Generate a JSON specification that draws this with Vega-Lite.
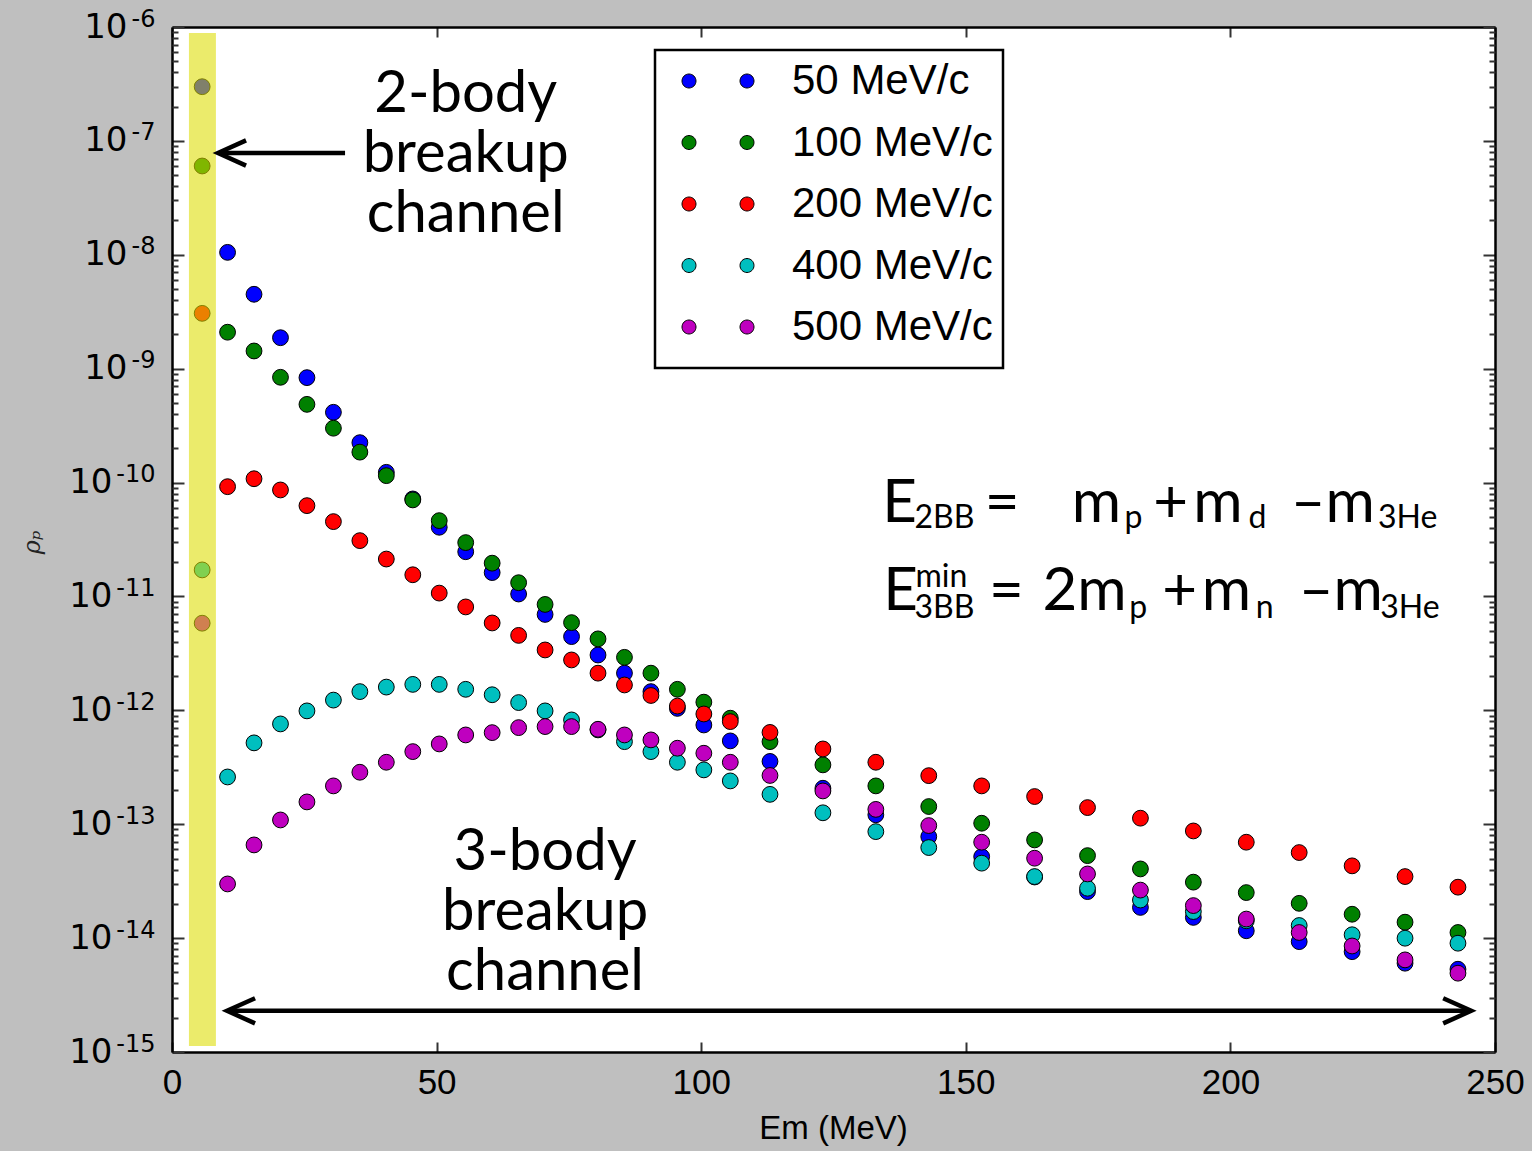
{
  "$schema": "https://vega.github.io/schema/vega-lite/v6.json",
  "width": 1323,
  "height": 1025,
  "autosize": {"type": "none"},
  "padding": {"left": 172, "top": 27, "right": 37, "bottom": 99},
  "background": "#bfbfbf",
  "config": {
    "view": {"fill": "white", "stroke": null},
    "axis": {"grid": false, "domainColor": "black", "domainWidth": 2.5, "tickColor": "#333333", "tickWidth": 2, "labelColor": "black", "titleColor": "black", "labelFont": "Liberation Sans", "titleFont": "Liberation Sans", "titleFontWeight": "normal", "labelOverlap": false, "labelFlush": false},
    "legend": {"strokeWidth": 2.5}
  },
  "datasets": {
    "pts": [
      {"s":"50 MeV/c","em":5.7,"rho":2.99e-7},{"s":"50 MeV/c","em":10.5,"rho":1.05e-8},{"s":"50 MeV/c","em":15.5,"rho":4.5e-9},{"s":"50 MeV/c","em":20.5,"rho":1.87e-9},{"s":"50 MeV/c","em":25.5,"rho":8.34e-10},{"s":"50 MeV/c","em":30.5,"rho":4.14e-10},{"s":"50 MeV/c","em":35.5,"rho":2.24e-10},{"s":"50 MeV/c","em":40.5,"rho":1.23e-10},{"s":"50 MeV/c","em":45.5,"rho":7.18e-11},{"s":"50 MeV/c","em":50.5,"rho":4.05e-11},{"s":"50 MeV/c","em":55.5,"rho":2.47e-11},{"s":"50 MeV/c","em":60.5,"rho":1.62e-11},{"s":"50 MeV/c","em":65.5,"rho":1.05e-11},{"s":"50 MeV/c","em":70.5,"rho":6.95e-12},{"s":"50 MeV/c","em":75.5,"rho":4.44e-12},{"s":"50 MeV/c","em":80.5,"rho":3.06e-12},{"s":"50 MeV/c","em":85.5,"rho":2.12e-12},{"s":"50 MeV/c","em":90.5,"rho":1.46e-12},{"s":"50 MeV/c","em":95.5,"rho":1.04e-12},{"s":"50 MeV/c","em":100.5,"rho":7.44e-13},{"s":"50 MeV/c","em":105.5,"rho":5.39e-13},{"s":"50 MeV/c","em":113,"rho":3.56e-13},{"s":"50 MeV/c","em":123,"rho":2.07e-13},{"s":"50 MeV/c","em":133,"rho":1.21e-13},{"s":"50 MeV/c","em":143,"rho":7.78e-14},{"s":"50 MeV/c","em":153,"rho":5.19e-14},{"s":"50 MeV/c","em":163,"rho":3.44e-14},{"s":"50 MeV/c","em":173,"rho":2.56e-14},{"s":"50 MeV/c","em":183,"rho":1.86e-14},{"s":"50 MeV/c","em":193,"rho":1.52e-14},{"s":"50 MeV/c","em":203,"rho":1.16e-14},{"s":"50 MeV/c","em":213,"rho":9.31e-15},{"s":"50 MeV/c","em":223,"rho":7.6e-15},{"s":"50 MeV/c","em":233,"rho":6.02e-15},{"s":"50 MeV/c","em":243,"rho":5.33e-15},
      {"s":"100 MeV/c","em":5.7,"rho":6.02e-8},{"s":"100 MeV/c","em":10.5,"rho":2.09e-9},{"s":"100 MeV/c","em":15.5,"rho":1.43e-9},{"s":"100 MeV/c","em":20.5,"rho":8.4e-10},{"s":"100 MeV/c","em":25.5,"rho":4.86e-10},{"s":"100 MeV/c","em":30.5,"rho":3.0e-10},{"s":"100 MeV/c","em":35.5,"rho":1.85e-10},{"s":"100 MeV/c","em":40.5,"rho":1.15e-10},{"s":"100 MeV/c","em":45.5,"rho":7.04e-11},{"s":"100 MeV/c","em":50.5,"rho":4.63e-11},{"s":"100 MeV/c","em":55.5,"rho":2.97e-11},{"s":"100 MeV/c","em":60.5,"rho":1.96e-11},{"s":"100 MeV/c","em":65.5,"rho":1.32e-11},{"s":"100 MeV/c","em":70.5,"rho":8.51e-12},{"s":"100 MeV/c","em":75.5,"rho":5.89e-12},{"s":"100 MeV/c","em":80.5,"rho":4.24e-12},{"s":"100 MeV/c","em":85.5,"rho":2.92e-12},{"s":"100 MeV/c","em":90.5,"rho":2.12e-12},{"s":"100 MeV/c","em":95.5,"rho":1.53e-12},{"s":"100 MeV/c","em":100.5,"rho":1.18e-12},{"s":"100 MeV/c","em":105.5,"rho":8.53e-13},{"s":"100 MeV/c","em":113,"rho":5.31e-13},{"s":"100 MeV/c","em":123,"rho":3.32e-13},{"s":"100 MeV/c","em":133,"rho":2.17e-13},{"s":"100 MeV/c","em":143,"rho":1.43e-13},{"s":"100 MeV/c","em":153,"rho":1.02e-13},{"s":"100 MeV/c","em":163,"rho":7.28e-14},{"s":"100 MeV/c","em":173,"rho":5.3e-14},{"s":"100 MeV/c","em":183,"rho":4.05e-14},{"s":"100 MeV/c","em":193,"rho":3.1e-14},{"s":"100 MeV/c","em":203,"rho":2.51e-14},{"s":"100 MeV/c","em":213,"rho":2.02e-14},{"s":"100 MeV/c","em":223,"rho":1.62e-14},{"s":"100 MeV/c","em":233,"rho":1.38e-14},{"s":"100 MeV/c","em":243,"rho":1.12e-14},
      {"s":"200 MeV/c","em":5.7,"rho":3.06e-9},{"s":"200 MeV/c","em":10.5,"rho":9.2e-11},{"s":"200 MeV/c","em":15.5,"rho":1.08e-10},{"s":"200 MeV/c","em":20.5,"rho":8.61e-11},{"s":"200 MeV/c","em":25.5,"rho":6.27e-11},{"s":"200 MeV/c","em":30.5,"rho":4.54e-11},{"s":"200 MeV/c","em":35.5,"rho":3.09e-11},{"s":"200 MeV/c","em":40.5,"rho":2.13e-11},{"s":"200 MeV/c","em":45.5,"rho":1.55e-11},{"s":"200 MeV/c","em":50.5,"rho":1.07e-11},{"s":"200 MeV/c","em":55.5,"rho":8.09e-12},{"s":"200 MeV/c","em":60.5,"rho":5.85e-12},{"s":"200 MeV/c","em":65.5,"rho":4.55e-12},{"s":"200 MeV/c","em":70.5,"rho":3.39e-12},{"s":"200 MeV/c","em":75.5,"rho":2.77e-12},{"s":"200 MeV/c","em":80.5,"rho":2.12e-12},{"s":"200 MeV/c","em":85.5,"rho":1.67e-12},{"s":"200 MeV/c","em":90.5,"rho":1.35e-12},{"s":"200 MeV/c","em":95.5,"rho":1.09e-12},{"s":"200 MeV/c","em":100.5,"rho":9.29e-13},{"s":"200 MeV/c","em":105.5,"rho":7.96e-13},{"s":"200 MeV/c","em":113,"rho":6.4e-13},{"s":"200 MeV/c","em":123,"rho":4.58e-13},{"s":"200 MeV/c","em":133,"rho":3.5e-13},{"s":"200 MeV/c","em":143,"rho":2.67e-13},{"s":"200 MeV/c","em":153,"rho":2.17e-13},{"s":"200 MeV/c","em":163,"rho":1.75e-13},{"s":"200 MeV/c","em":173,"rho":1.4e-13},{"s":"200 MeV/c","em":183,"rho":1.13e-13},{"s":"200 MeV/c","em":193,"rho":8.73e-14},{"s":"200 MeV/c","em":203,"rho":6.95e-14},{"s":"200 MeV/c","em":213,"rho":5.64e-14},{"s":"200 MeV/c","em":223,"rho":4.31e-14},{"s":"200 MeV/c","em":233,"rho":3.47e-14},{"s":"200 MeV/c","em":243,"rho":2.8e-14},
      {"s":"400 MeV/c","em":5.7,"rho":1.71e-11},{"s":"400 MeV/c","em":10.5,"rho":2.6e-13},{"s":"400 MeV/c","em":15.5,"rho":5.18e-13},{"s":"400 MeV/c","em":20.5,"rho":7.6e-13},{"s":"400 MeV/c","em":25.5,"rho":9.89e-13},{"s":"400 MeV/c","em":30.5,"rho":1.23e-12},{"s":"400 MeV/c","em":35.5,"rho":1.46e-12},{"s":"400 MeV/c","em":40.5,"rho":1.6e-12},{"s":"400 MeV/c","em":45.5,"rho":1.69e-12},{"s":"400 MeV/c","em":50.5,"rho":1.69e-12},{"s":"400 MeV/c","em":55.5,"rho":1.53e-12},{"s":"400 MeV/c","em":60.5,"rho":1.37e-12},{"s":"400 MeV/c","em":65.5,"rho":1.17e-12},{"s":"400 MeV/c","em":70.5,"rho":9.89e-13},{"s":"400 MeV/c","em":75.5,"rho":8.24e-13},{"s":"400 MeV/c","em":80.5,"rho":6.73e-13},{"s":"400 MeV/c","em":85.5,"rho":5.31e-13},{"s":"400 MeV/c","em":90.5,"rho":4.34e-13},{"s":"400 MeV/c","em":95.5,"rho":3.5e-13},{"s":"400 MeV/c","em":100.5,"rho":3.0e-13},{"s":"400 MeV/c","em":105.5,"rho":2.4e-13},{"s":"400 MeV/c","em":113,"rho":1.83e-13},{"s":"400 MeV/c","em":123,"rho":1.26e-13},{"s":"400 MeV/c","em":133,"rho":8.61e-14},{"s":"400 MeV/c","em":143,"rho":6.24e-14},{"s":"400 MeV/c","em":153,"rho":4.55e-14},{"s":"400 MeV/c","em":163,"rho":3.47e-14},{"s":"400 MeV/c","em":173,"rho":2.74e-14},{"s":"400 MeV/c","em":183,"rho":2.16e-14},{"s":"400 MeV/c","em":193,"rho":1.71e-14},{"s":"400 MeV/c","em":203,"rho":1.42e-14},{"s":"400 MeV/c","em":213,"rho":1.29e-14},{"s":"400 MeV/c","em":223,"rho":1.07e-14},{"s":"400 MeV/c","em":233,"rho":9.98e-15},{"s":"400 MeV/c","em":243,"rho":9.02e-15},
      {"s":"500 MeV/c","em":5.7,"rho":5.82e-12},{"s":"500 MeV/c","em":10.5,"rho":2.99e-14},{"s":"500 MeV/c","em":15.5,"rho":6.58e-14},{"s":"500 MeV/c","em":20.5,"rho":1.09e-13},{"s":"500 MeV/c","em":25.5,"rho":1.57e-13},{"s":"500 MeV/c","em":30.5,"rho":2.17e-13},{"s":"500 MeV/c","em":35.5,"rho":2.86e-13},{"s":"500 MeV/c","em":40.5,"rho":3.5e-13},{"s":"500 MeV/c","em":45.5,"rho":4.34e-13},{"s":"500 MeV/c","em":50.5,"rho":5.07e-13},{"s":"500 MeV/c","em":55.5,"rho":6.08e-13},{"s":"500 MeV/c","em":60.5,"rho":6.37e-13},{"s":"500 MeV/c","em":65.5,"rho":7.05e-13},{"s":"500 MeV/c","em":70.5,"rho":7.2e-13},{"s":"500 MeV/c","em":75.5,"rho":7.2e-13},{"s":"500 MeV/c","em":80.5,"rho":6.82e-13},{"s":"500 MeV/c","em":85.5,"rho":6.08e-13},{"s":"500 MeV/c","em":90.5,"rho":5.5e-13},{"s":"500 MeV/c","em":95.5,"rho":4.65e-13},{"s":"500 MeV/c","em":100.5,"rho":4.2e-13},{"s":"500 MeV/c","em":105.5,"rho":3.5e-13},{"s":"500 MeV/c","em":113,"rho":2.68e-13},{"s":"500 MeV/c","em":123,"rho":1.96e-13},{"s":"500 MeV/c","em":133,"rho":1.35e-13},{"s":"500 MeV/c","em":143,"rho":9.73e-14},{"s":"500 MeV/c","em":153,"rho":6.95e-14},{"s":"500 MeV/c","em":163,"rho":5.03e-14},{"s":"500 MeV/c","em":173,"rho":3.66e-14},{"s":"500 MeV/c","em":183,"rho":2.64e-14},{"s":"500 MeV/c","em":193,"rho":1.93e-14},{"s":"500 MeV/c","em":203,"rho":1.47e-14},{"s":"500 MeV/c","em":213,"rho":1.12e-14},{"s":"500 MeV/c","em":223,"rho":8.53e-15},{"s":"500 MeV/c","em":233,"rho":6.44e-15},{"s":"500 MeV/c","em":243,"rho":4.92e-15}
    ],
    "labels": [
      {"x":55.5,"y":1.79e-7,"t":"2-body\nbreakup\nchannel"},
      {"x":70.5,"y":3.97e-14,"t":"3-body\nbreakup\nchannel"}
    ],
    "eqmain": [
      {"x":134.2,"y":4.51e-11,"t":"E"},{"x":153.6,"y":4.51e-11,"t":"="},{"x":170.0,"y":4.51e-11,"t":"m"},{"x":185.4,"y":4.51e-11,"t":"+"},{"x":193.0,"y":4.51e-11,"t":"m"},{"x":211.4,"y":4.51e-11,"t":"–m"},
      {"x":134.4,"y":7.6e-12,"t":"E"},{"x":154.4,"y":7.6e-12,"t":"="},{"x":164.5,"y":7.6e-12,"t":"2m"},{"x":187.1,"y":7.6e-12,"t":"+"},{"x":194.6,"y":7.6e-12,"t":"m"},{"x":212.9,"y":7.6e-12,"t":"–m"}
    ],
    "eqsub": [
      {"x":140.3,"y":3.99e-11,"t":"2BB"},{"x":180.0,"y":3.99e-11,"t":"p"},{"x":203.4,"y":3.99e-11,"t":"d"},{"x":227.9,"y":3.99e-11,"t":"3He"},
      {"x":140.3,"y":6.47e-12,"t":"3BB"},{"x":180.9,"y":6.47e-12,"t":"p"},{"x":204.8,"y":6.47e-12,"t":"n"},{"x":228.3,"y":6.47e-12,"t":"3He"},
      {"x":140.5,"y":1.22e-11,"t":"min"}
    ],
    "shafts": [
      {"x":8.9,"x2":32.7,"y":7.83e-8},{"x":10.6,"x2":245.3,"y":2.3e-15}
    ],
    "headsL": [{"x":8.7,"y":7.83e-8},{"x":10.4,"y":2.3e-15}],
    "headsR": [{"x":245.5,"y":2.3e-15}],
    "band": [{"x1":3.2,"x2":8.3,"y1":1.13e-15,"y2":8.85e-7}]
  },
  "resolve": {"axis": {"x": "independent", "y": "independent"}},
  "layer": [
    {
      "data": {"name": "pts"},
      "mark": {"type": "point", "filled": true, "size": 250, "opacity": 1, "stroke": "black", "strokeWidth": 1},
      "encoding": {
        "x": {"field": "em", "type": "quantitative", "scale": {"domain": [0, 250], "nice": false, "zero": false},
          "axis": {"orient": "bottom", "values": [0, 50, 100, 150, 200, 250], "title": "Em (MeV)", "tickSize": -10, "labelPadding": 23, "labelFontSize": 35, "titleFontSize": 33, "titleX": 661, "titleY": 86, "titleBaseline": "alphabetic", "titleAnchor": "middle"}},
        "y": {"field": "rho", "type": "quantitative", "scale": {"type": "log", "domain": [1e-15, 1e-6], "nice": false},
          "axis": {"orient": "left", "values": [1e-15, 1e-14, 1e-13, 1e-12, 1e-11, 1e-10, 1e-9, 1e-8, 1e-7, 1e-6], "tickSize": -12, "labelPadding": 57, "labelFont": "DejaVu Sans", "labelFontSize": 34,
            "labelExpr": "datum.value > 5e-10 ? '10' : ''",
            "title": "ρₚ", "titleFont": "DejaVu Serif", "titleFontStyle": "italic", "titleFontSize": 24, "titleX": -140, "titleY": 515, "titleAngle": -90, "titleBaseline": "middle", "titleColor": "#222222"}},
        "color": {"field": "s", "type": "nominal",
          "scale": {"domain": ["50 MeV/c", "100 MeV/c", "200 MeV/c", "400 MeV/c", "500 MeV/c"], "range": ["#0000ff", "#008000", "#ff0000", "#00bfbf", "#bf00bf"]},
          "legend": {"orient": "none", "legendX": 483, "legendY": 23, "title": " ", "titleOrient": "bottom", "titleFontSize": 10, "titlePadding": 0, "fillColor": "white", "strokeColor": "black", "padding": 10,
            "symbolType": "M-0.4,0A0.7,0.7,0,1,0,1.0,0A0.7,0.7,0,1,0,-0.4,0ZM5.4,0A0.7,0.7,0,1,0,6.8,0A0.7,0.7,0,1,0,5.4,0Z",
            "symbolSize": 400, "symbolStrokeColor": "black", "symbolStrokeWidth": 1, "symbolOpacity": 1,
            "labelFont": "Liberation Sans", "labelFontSize": 42, "labelColor": "black", "labelOffset": 85, "labelLimit": 400, "rowPadding": 19.5}}
      }
    },
    {
      "data": {"name": "band"},
      "mark": {"type": "rect", "color": "#dcdc00", "opacity": 0.58},
      "encoding": {
        "x": {"field": "x1", "type": "quantitative", "axis": {"orient": "top", "values": [0, 50, 100, 150, 200, 250], "labels": false, "title": null, "tickSize": -10}},
        "x2": {"field": "x2"},
        "y": {"field": "y1", "type": "quantitative", "axis": {"orient": "right", "values": [1e-15, 1e-14, 1e-13, 1e-12, 1e-11, 1e-10, 1e-9, 1e-8, 1e-7, 1e-6], "labels": false, "title": null, "tickSize": -12}},
        "y2": {"field": "y2"}
      }
    },
    {
      "data": {"name": "labels"},
      "mark": {"type": "text", "font": "Lato", "fontSize": 58, "align": "center", "baseline": "alphabetic", "lineBreak": "\n", "lineHeight": 60, "color": "black"},
      "encoding": {
        "x": {"field": "x", "type": "quantitative", "axis": null},
        "y": {"field": "y", "type": "quantitative", "axis": {"orient": "left", "domain": false, "labels": false, "title": null, "tickSize": -6,
          "values": [2e-15,3e-15,4e-15,5e-15,6e-15,7e-15,8e-15,9e-15,2e-14,3e-14,4e-14,5e-14,6e-14,7e-14,8e-14,9e-14,2e-13,3e-13,4e-13,5e-13,6e-13,7e-13,8e-13,9e-13,2e-12,3e-12,4e-12,5e-12,6e-12,7e-12,8e-12,9e-12,2e-11,3e-11,4e-11,5e-11,6e-11,7e-11,8e-11,9e-11,2e-10,3e-10,4e-10,5e-10,6e-10,7e-10,8e-10,9e-10,2e-9,3e-9,4e-9,5e-9,6e-9,7e-9,8e-9,9e-9,2e-8,3e-8,4e-8,5e-8,6e-8,7e-8,8e-8,9e-8,2e-7,3e-7,4e-7,5e-7,6e-7,7e-7,8e-7,9e-7]}},
        "text": {"field": "t"}
      }
    },
    {
      "data": {"name": "shafts"},
      "mark": {"type": "rule", "color": "black", "strokeWidth": 4.5},
      "encoding": {
        "x": {"field": "x", "type": "quantitative", "axis": null},
        "x2": {"field": "x2"},
        "y": {"field": "y", "type": "quantitative", "axis": {"orient": "right", "domain": false, "labels": false, "title": null, "tickSize": -6,
          "values": [2e-15,3e-15,4e-15,5e-15,6e-15,7e-15,8e-15,9e-15,2e-14,3e-14,4e-14,5e-14,6e-14,7e-14,8e-14,9e-14,2e-13,3e-13,4e-13,5e-13,6e-13,7e-13,8e-13,9e-13,2e-12,3e-12,4e-12,5e-12,6e-12,7e-12,8e-12,9e-12,2e-11,3e-11,4e-11,5e-11,6e-11,7e-11,8e-11,9e-11,2e-10,3e-10,4e-10,5e-10,6e-10,7e-10,8e-10,9e-10,2e-9,3e-9,4e-9,5e-9,6e-9,7e-9,8e-9,9e-9,2e-8,3e-8,4e-8,5e-8,6e-8,7e-8,8e-8,9e-8,2e-7,3e-7,4e-7,5e-7,6e-7,7e-7,8e-7,9e-7]}}
      }
    },
    {
      "data": {"name": "headsL"},
      "mark": {"type": "point", "shape": "M1,-0.45L0,0L1,0.45", "size": 3136, "filled": false, "opacity": 1, "stroke": "black", "strokeWidth": 4.5, "strokeJoin": "miter"},
      "encoding": {
        "x": {"field": "x", "type": "quantitative", "axis": null},
        "y": {"field": "y", "type": "quantitative", "axis": {"orient": "left", "values": [1e-15, 1e-14, 1e-13, 1e-12, 1e-11, 1e-10], "ticks": false, "tickSize": 0, "domain": false, "title": null, "labelPadding": 60, "labelFont": "DejaVu Sans", "labelFontSize": 34, "labelExpr": "'10'"}}
      }
    },
    {
      "data": {"name": "headsR"},
      "mark": {"type": "point", "shape": "M-1,-0.45L0,0L-1,0.45", "size": 3136, "filled": false, "opacity": 1, "stroke": "black", "strokeWidth": 4.5, "strokeJoin": "miter"},
      "encoding": {
        "x": {"field": "x", "type": "quantitative", "axis": null},
        "y": {"field": "y", "type": "quantitative", "axis": {"orient": "left", "values": [1e-15, 1e-14, 1e-13, 1e-12, 1e-11, 1e-10, 1e-9, 1e-8, 1e-7, 1e-6], "ticks": false, "tickSize": 0, "domain": false, "title": null, "labelPadding": 17, "labelFont": "DejaVu Sans", "labelFontSize": 24, "labelBaseline": "alphabetic", "labelOffset": -1, "labelExpr": "'-' + round(-log(datum.value)/LN10)"}}
      }
    },
    {
      "data": {"name": "eqmain"},
      "mark": {"type": "text", "font": "Lato", "fontSize": 60, "align": "left", "baseline": "alphabetic", "color": "black"},
      "encoding": {
        "x": {"field": "x", "type": "quantitative", "axis": null},
        "y": {"field": "y", "type": "quantitative", "axis": null},
        "text": {"field": "t"}
      }
    },
    {
      "data": {"name": "eqsub"},
      "mark": {"type": "text", "font": "Lato", "fontSize": 32, "align": "left", "baseline": "alphabetic", "color": "black"},
      "encoding": {
        "x": {"field": "x", "type": "quantitative", "axis": null},
        "y": {"field": "y", "type": "quantitative", "axis": null},
        "text": {"field": "t"}
      }
    }
  ]
}
